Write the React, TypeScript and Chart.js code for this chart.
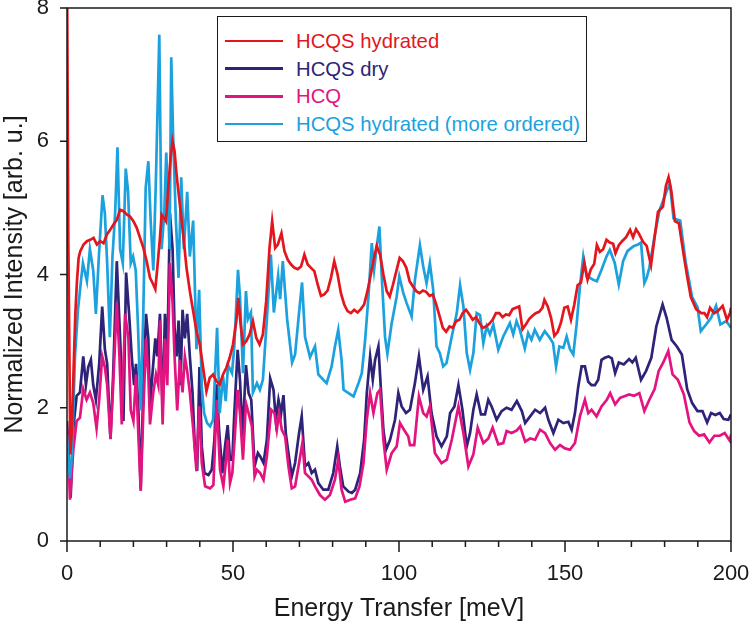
import React, { useEffect, useRef } from "react";
import { Chart, registerables } from "chart.js";

Chart.register(...registerables);

// ---------- data (Energy transfer [meV], normalized intensity) ----------
const redE = [0,0.4,1,1.5,2,2.5,3,3.5,4,5,6,7,8,9,10,11,12,13,14,15,16,17,18,19,20,21,22,23,24,25,26,26.6,27.2,28,28.5,29.2,29.8,30.5,31.2,31.8,32.4,33,34,35,36,37,38,39,40,41,42,43,44,45,46,47,48,49,50,51,51.6,52.2,53,54,55,56,57,58,59,60,61,61.8,62.7,63.5,64.6,65.5,66.5,67.5,68.5,69.5,70.5,71.5,72.5,73.5,74.5,75.5,76.5,77.5,78.5,79.5,80.5,81.5,82.5,83.5,84.5,85.5,86.5,87.5,88.5,89.5,90.5,91.5,92.5,93.3,94.3,95.3,96.3,97.2,98.2,99.2,100.2,101.2,102.2,103.2,104.2,105.2,106.2,107.2,108.2,109.2,110.2,111.2,112.2,113.2,114.2,115.2,116.2,117.2,118.2,119.2,120.2,121.2,122.2,123.2,124.2,125.2,126.2,127.2,128.2,129.2,130.2,131.2,132.2,133.2,134.2,135.2,136.2,137.2,138.2,139.2,140.2,141.2,142.2,143.2,143.8,144.8,145.8,146.8,147.8,148.8,149.8,150.8,151.8,152.8,153.8,154.8,155.8,156.8,157.8,158.8,159.6,160.5,161.5,162.5,163.5,164.5,165.2,166.2,167.2,168.4,169.6,170.5,171.4,172.3,173.5,174.6,175.9,177,178,179.5,180.4,181.2,182,183.1,184.3,185.8,186.8,187.9,189.5,191,192,192.8,193.7,194.9,196,197.5,198.8,199.7,200];
const redI = [8.6,4.5,1.3,1.7,2.6,3.4,3.9,4.25,4.35,4.45,4.5,4.52,4.55,4.45,4.5,4.47,4.6,4.67,4.75,4.82,4.97,4.95,4.9,4.87,4.8,4.7,4.55,4.4,4.2,3.95,3.85,3.78,4.1,4.55,4.9,4.85,4.8,5.3,5.75,6.0,5.85,5.5,5.05,4.6,4.1,3.75,3.45,3.15,2.95,2.6,2.25,2.45,2.5,2.4,2.35,2.5,2.6,2.75,2.95,3.3,3.65,3.3,2.95,3.0,3.1,3.3,3.05,2.95,3.1,3.6,4.4,4.8,4.4,4.45,4.62,4.35,4.22,4.15,4.1,4.08,4.12,4.3,4.15,4.1,4.05,3.85,3.68,3.7,3.76,3.95,4.2,4.0,3.72,3.55,3.45,3.42,3.47,3.43,3.48,3.55,3.75,4.0,4.25,4.43,4.3,4.0,3.75,3.67,3.85,4.05,4.25,4.2,4.1,3.9,3.82,3.75,3.72,3.76,3.74,3.68,3.7,3.55,3.38,3.2,3.14,3.22,3.2,3.3,3.32,3.42,3.47,3.4,3.32,3.36,3.27,3.2,3.22,3.26,3.32,3.42,3.42,3.36,3.4,3.39,3.48,3.5,3.52,3.18,3.25,3.33,3.38,3.42,3.44,3.5,3.62,3.52,3.35,3.08,3.14,3.28,3.5,3.52,3.32,3.55,3.84,3.88,4.18,3.92,4.08,4.16,4.44,4.34,4.38,4.52,4.48,4.46,4.32,4.44,4.5,4.56,4.67,4.56,4.68,4.61,4.49,4.43,4.14,4.56,4.94,5.02,5.33,5.46,5.26,4.8,4.77,4.28,3.97,3.66,3.48,3.42,3.42,3.36,3.5,3.42,3.45,3.53,3.32,3.42,3.5];

const navyE = [0,0.5,1.1,1.9,2.9,3.9,4.9,5.7,6.4,7.2,7.9,8.7,9.7,10.6,11.4,12.1,13.1,13.9,15,16,17,17.8,18.7,19.5,20.2,20.8,21.5,22.2,23,23.8,24.5,25,25.8,26.6,27.2,28,28.8,29.5,30.2,31,31.8,32.4,33,33.6,34.2,34.8,35.5,36.2,37,37.8,38.5,39.2,39.9,40.6,41.4,42.6,43.6,44.4,45.1,45.8,46.8,47.6,48.4,49.1,49.8,50.4,51.4,52.1,52.9,53.9,54.7,55.5,56.5,57.5,58.2,59.2,60.2,61.2,62.2,62.9,63.7,64.5,65.2,65.9,66.7,67.7,68.7,69.9,70.7,71.7,72.7,73.7,74.7,75.7,77.2,78.7,80.2,81.4,82.2,83.2,84.8,85.8,86.8,88.3,89.5,90.3,91.3,92.1,92.8,93.8,94.5,95.3,96.1,97.3,98.8,99.8,100.8,102.1,103.3,104.8,106,107.3,108.6,109.8,111.3,112.8,114.4,115.4,116.7,117.9,119.1,120.4,121.4,122.4,123.4,124.7,125.9,126.9,127.9,129.4,130.9,132.4,133.9,135.5,137,138,139.5,141,142.5,144,145,146.5,148,149.5,151,152,153,154,155,156,157,158,159,160,161,162,163.1,164.1,165.1,166.2,167.7,169.3,170.3,171.3,172.9,174.4,176,177.5,179.4,180.6,182.1,183.7,185.2,186.8,188.3,189.9,191.4,192.8,194,195.3,196.6,197.8,199.2,200];
const navyI = [1.8,1.3,0.65,1.69,2.18,2.23,2.77,2.34,2.61,2.72,2.34,2.12,2.66,3.52,2.88,2.66,1.53,2.5,4.2,3.04,1.8,4.03,3.41,2.77,2.34,2.66,1.96,0.78,2.34,3.41,3.04,2.02,2.55,3.04,2.77,3.41,1.96,3.41,2.77,4.92,4.38,3.2,2.77,3.31,2.34,3.47,3.04,3.41,2.77,2.23,1.42,1.05,2.61,1.42,1.02,0.99,1.07,1.52,2.35,1.67,1.02,1.42,1.74,1.22,1.22,1.92,2.87,2.42,1.57,2.64,2.22,2.12,1.12,1.32,1.27,1.17,1.52,2.44,2.27,1.82,2.12,1.92,2.19,1.62,1.32,0.97,1.17,1.62,1.87,1.12,1.17,1.02,1.07,0.87,0.77,0.77,1.02,1.42,1.12,0.82,0.74,0.72,0.77,1.02,1.52,2.22,2.77,2.42,2.72,2.92,2.32,1.67,1.37,1.52,1.82,2.22,2.02,1.92,1.97,2.37,2.77,2.27,2.47,1.92,1.57,1.42,1.57,1.92,2.02,2.34,1.97,1.42,1.62,1.97,2.2,1.9,1.9,2.12,2.02,1.82,1.95,2.0,1.97,2.1,1.95,1.77,1.87,1.97,1.92,2.0,1.82,1.62,1.82,1.77,1.79,1.67,1.92,2.32,2.62,2.62,2.39,2.34,2.34,2.42,2.72,2.75,2.77,2.74,2.52,2.68,2.65,2.73,2.68,2.75,2.42,2.55,2.75,3.22,3.55,3.35,3.02,2.92,2.8,2.28,2.07,1.95,1.95,1.78,1.92,1.89,1.92,1.83,1.82,1.9];

const magE = [0,0.5,0.9,1.9,2.9,3.9,4.9,5.9,6.9,7.9,8.9,9.7,10.6,11.4,12.1,13.1,13.9,15,15.8,16.5,17.5,18.5,19.2,20,20.8,21.5,22.2,23,23.8,24.5,25,26,26.8,27.5,28,28.8,29.5,30.2,31,31.8,32.4,33.2,34,34.8,35.5,36.2,37,38,39,39.8,40.6,41.6,43.1,44.1,45.1,46.1,47.1,47.8,48.4,49.1,49.8,50.6,51.4,52.1,53,53.9,54.7,55.7,56.5,57.2,58.2,59.2,60.2,61.5,62.5,63.2,63.9,64.7,65.7,66.7,67.7,68.7,69.9,70.9,71.7,72.7,73.7,74.7,76.2,77.7,79.2,80.7,81.7,82.7,83.8,85.3,86.8,88.1,89.3,90.3,91.3,92.3,93.5,94.3,95.3,96.3,97.8,99.3,100.3,101.5,102.8,103.3,104.6,106,107.3,108.3,109.3,110.8,112.8,114.4,115.9,117.9,119.4,120.9,122.4,123.7,125.4,126.9,128.2,129.9,131.4,132.4,133.9,135.5,136.5,138,139.5,141,142.5,144,145.5,147,148.5,150,151.5,153,154.5,156,157,158,159.5,161,162.6,163.6,165.1,166.6,167.7,169.3,170.8,172.4,173.9,175.4,177,178.2,179.6,181.1,182.4,184,185.8,187.5,188.9,190.4,191.9,193.5,195,196.6,198.1,199.7,200];
const magI = [1.7,1.2,0.62,1.37,1.8,1.85,2.28,2.12,2.23,2.07,1.69,2.12,2.77,2.61,2.34,1.53,2.34,3.58,2.77,1.75,3.41,3.04,1.96,1.8,2.5,1.59,0.75,1.96,3.04,2.5,1.75,2.23,2.5,2.34,3.31,1.75,3.04,2.34,4.17,3.58,2.77,1.96,2.72,2.23,2.77,2.55,2.23,1.69,1.05,2.02,1.17,0.82,0.79,0.84,2.12,1.07,0.82,1.17,1.52,0.87,1.02,1.62,2.27,1.92,1.22,2.07,1.92,1.72,0.97,1.07,1.02,0.92,1.27,1.97,1.92,1.67,1.92,1.67,1.57,1.12,0.79,0.82,1.17,1.47,1.02,0.97,0.92,0.82,0.69,0.62,0.69,0.92,1.22,0.77,0.59,0.62,0.64,0.82,1.17,1.82,2.22,1.92,2.22,2.27,1.52,1.07,1.32,1.42,1.77,1.67,1.57,1.44,1.44,2.17,1.92,1.87,2.02,1.32,1.17,1.22,1.52,2.02,1.62,1.12,1.3,1.7,1.47,1.54,1.7,1.45,1.47,1.65,1.62,1.66,1.72,1.49,1.54,1.52,1.67,1.62,1.47,1.37,1.44,1.39,1.37,1.47,1.87,2.12,1.92,1.97,1.87,2.02,2.12,2.22,2.05,2.15,2.17,2.2,2.18,2.22,1.95,2.12,2.28,2.55,2.68,2.85,2.5,2.42,2.2,1.78,1.65,1.58,1.6,1.48,1.58,1.58,1.62,1.5,1.6];

const blueE = [0,0.5,0.9,1.5,2.4,3.3,4.2,4.8,6,6.9,7.9,8.7,9.6,10.7,11.4,12.1,12.9,13.7,14.5,15.2,16,16.8,17.7,18.4,19.2,19.9,20.7,21.4,22.2,23,23.7,24.5,25.2,26,26.8,27.8,28.5,29.3,29.9,30.9,31.4,32,32.8,33.6,34.4,35.2,36.2,37,38,39,39.8,40.6,41.3,42.2,43.1,44,45.2,46,47,47.8,48.5,49.7,50.4,51.5,52.1,53,53.9,54.5,55.4,56,57.2,58.1,59,60.2,61.4,62.3,63.6,64.2,65,66.3,67.8,68.7,69.9,70.8,71.7,73.2,74.7,75.7,77.2,78.2,79.7,80.7,81.7,82.7,83.3,84.8,86.3,87.8,88.8,89.8,90.8,91.8,92.5,93.3,94.1,94.8,95.8,96.5,97.8,99.3,100.1,101.3,102.3,103.8,104.8,106.3,107.3,108.3,109.3,110.3,111.3,112.3,113.3,114.3,115.9,117.4,118.4,119.4,120.4,121.4,122.4,123.4,124.4,125.4,126.4,127.4,128.4,129.9,131.4,132.4,133.4,134.4,135.4,136.4,137.9,138.9,139.9,140.9,142.4,143.9,145.4,146.4,147.3,148.3,149.5,150.5,151.5,152.5,153.5,154.5,155.5,156.5,157.5,158.5,159.6,161,162.5,163.5,165,166.2,167.5,168.8,170,170.8,172,172.9,173.9,174.6,175.4,177,178.5,179.5,180.6,181.6,182.7,184.7,186.3,188.3,189.9,190.9,192.5,194,195.5,196.8,198.6,200];
const blueI = [1.6,1.2,0.94,1.3,2.77,3.47,3.9,4.17,3.9,4.38,4.06,3.41,4.27,5.19,4.92,4.17,3.06,4.27,4.92,5.91,4.38,4.17,5.59,5.24,4.17,4.27,4.06,3.2,1.96,3.47,5.3,5.7,4.81,4.06,5.46,7.6,4.38,4.92,5.83,4.38,7.26,6.0,4.81,3.95,5.46,4.38,5.24,4.27,4.81,2.88,3.77,2.3,1.92,1.77,1.72,1.82,3.2,1.92,2.47,2.1,2.64,2.52,2.92,4.07,3.67,2.52,3.75,3.33,3.43,2.23,2.37,2.27,2.42,3.33,4.3,3.43,3.98,3.63,4.2,3.33,2.68,2.8,3.43,3.88,3.06,2.76,2.92,2.5,2.42,2.37,2.62,2.92,3.17,2.72,2.27,2.22,2.17,2.37,2.52,3.02,3.67,4.47,4.07,4.42,4.72,3.97,3.06,2.81,3.27,3.67,3.97,3.72,3.57,3.37,3.92,4.44,4.12,3.87,4.17,3.77,2.92,2.82,2.62,2.67,3.07,3.42,3.84,3.52,2.82,2.57,2.82,3.42,3.39,2.97,3.22,3.1,3.25,2.87,3.07,3.17,3.27,3.1,3.3,3.17,2.89,3.12,3.02,3.17,3.02,3.15,3.05,2.97,2.62,2.92,2.9,3.07,2.88,2.8,3.25,3.82,4.27,3.97,3.95,3.92,3.9,4.07,4.27,4.37,4.17,3.85,4.2,4.35,4.4,4.43,4.45,4.48,3.87,3.95,4.1,4.58,4.97,5.1,5.25,5.36,4.84,4.81,4.2,3.66,3.51,3.15,3.25,3.35,3.53,3.25,3.3,3.2];

const xTickValues = [0, 50, 100, 150, 200];
const yTickValues = [0, 2, 4, 6, 8];

const seriesLabels = [
  "HCQS hydrated",
  "HCQS dry",
  "HCQ",
  "HCQS hydrated (more ordered)",
];
const seriesColors = ["#e3161d", "#2d2378", "#e3137f", "#1ba1de"];

const FONT = "'Liberation Sans', Arial, Helvetica, sans-serif";

function pts(e: number[], v: number[]) {
  return e.map((x, i) => ({ x, y: v[i] }));
}

const frameTicks = {
  id: "frameTicks",
  afterDraw(chart: any) {
    const { ctx, chartArea } = chart;
    const xs = chart.scales.x;
    const ys = chart.scales.y;
    ctx.save();
    ctx.strokeStyle = "#1a1a1a";
    ctx.lineWidth = 1.5;
    ctx.strokeRect(chartArea.left, chartArea.top, chartArea.right - chartArea.left, chartArea.bottom - chartArea.top);
    ctx.beginPath();
    for (let v = 0; v <= 200; v += 10) {
      const px = xs.getPixelForValue(v);
      const len = v % 50 === 0 ? 11 : 6;
      ctx.moveTo(px, chartArea.bottom);
      ctx.lineTo(px, chartArea.bottom + len);
    }
    for (const v of yTickValues) {
      const py = ys.getPixelForValue(v);
      ctx.moveTo(chartArea.left - 7, py);
      ctx.lineTo(chartArea.left, py);
    }
    ctx.stroke();
    ctx.restore();
  },
};

export default function App() {
  const ref = useRef<HTMLCanvasElement | null>(null);

  useEffect(() => {
    if (!ref.current) return;
    const mk = (label: string, color: string, data: any[]) => ({
      label,
      data,
      borderColor: color,
      backgroundColor: color,
      borderWidth: 2.7,
      pointRadius: 0,
      tension: 0,
      fill: false,
    });
    const chart = new Chart(ref.current, {
      type: "line",
      data: {
        datasets: [
          mk(seriesLabels[0], seriesColors[0], pts(redE, redI)),
          mk(seriesLabels[3], seriesColors[3], pts(blueE, blueI)),
          mk(seriesLabels[2], seriesColors[2], pts(magE, magI)),
          mk(seriesLabels[1], seriesColors[1], pts(navyE, navyI)),
        ],
      },
      options: {
        animation: false,
        responsive: true,
        maintainAspectRatio: false,
        layout: { padding: { top: 8, right: 19, left: 0, bottom: 0 } },
        plugins: { legend: { display: false }, tooltip: { enabled: false } },
        scales: {
          x: {
            type: "linear",
            min: 0,
            max: 200,
            afterBuildTicks: (s: any) => {
              s.ticks = xTickValues.map((value) => ({ value }));
            },
            afterFit: (s: any) => {
              s.height = 91;
              s.paddingLeft = 0;
              s.paddingRight = 0;
            },
            grid: { display: false, drawTicks: false },
            border: { display: false },
            ticks: {
              padding: 20,
              color: "#1a1a1a",
              font: { family: FONT, size: 22 },
              maxRotation: 0,
              autoSkip: false,
            },
            title: {
              display: true,
              text: "Energy Transfer [meV]",
              color: "#1a1a1a",
              font: { family: FONT, size: 25 },
              padding: { top: 0, bottom: 8 },
            },
          },
          y: {
            min: 0,
            max: 8,
            afterBuildTicks: (s: any) => {
              s.ticks = yTickValues.map((value) => ({ value }));
            },
            afterFit: (s: any) => {
              s.width = 67;
              s.paddingTop = 0;
              s.paddingBottom = 0;
            },
            grid: { display: false, drawTicks: false },
            border: { display: false },
            ticks: {
              padding: 18,
              color: "#1a1a1a",
              font: { family: FONT, size: 22 },
            },
            title: {
              display: true,
              text: "Normalized Intensity [arb. u.]",
              color: "#1a1a1a",
              font: { family: FONT, size: 25 },
              padding: { top: 0, bottom: 0 },
            },
          },
        },
      },
      plugins: [frameTicks],
    });
    return () => chart.destroy();
  }, []);

  const legendOrder = [0, 1, 2, 3];

  return (
    <div style={{ position: "fixed", left: 0, top: 0, width: 750, height: 632, background: "#fff" }}>
      <canvas ref={ref} />
      <div
        style={{
          position: "absolute",
          left: 217,
          top: 16,
          width: 370,
          height: 126,
          boxSizing: "border-box",
          border: "1.5px solid #1a1a1a",
          background: "#fff",
          fontFamily: FONT,
          fontSize: 20.3,
        }}
      >
        {legendOrder.map((i, r) => (
          <div
            key={i}
            style={{
              position: "absolute",
              left: 0,
              top: 12 + r * 27.7 - 1,
              height: 26,
              width: "100%",
              display: "flex",
              alignItems: "center",
            }}
          >
            <div style={{ position: "absolute", left: 7, width: 58, height: 2.8, background: seriesColors[i] }} />
            <span style={{ position: "absolute", left: 78, color: seriesColors[i], whiteSpace: "nowrap", lineHeight: "26px" }}>
              {seriesLabels[i]}
            </span>
          </div>
        ))}
      </div>
    </div>
  );
}
